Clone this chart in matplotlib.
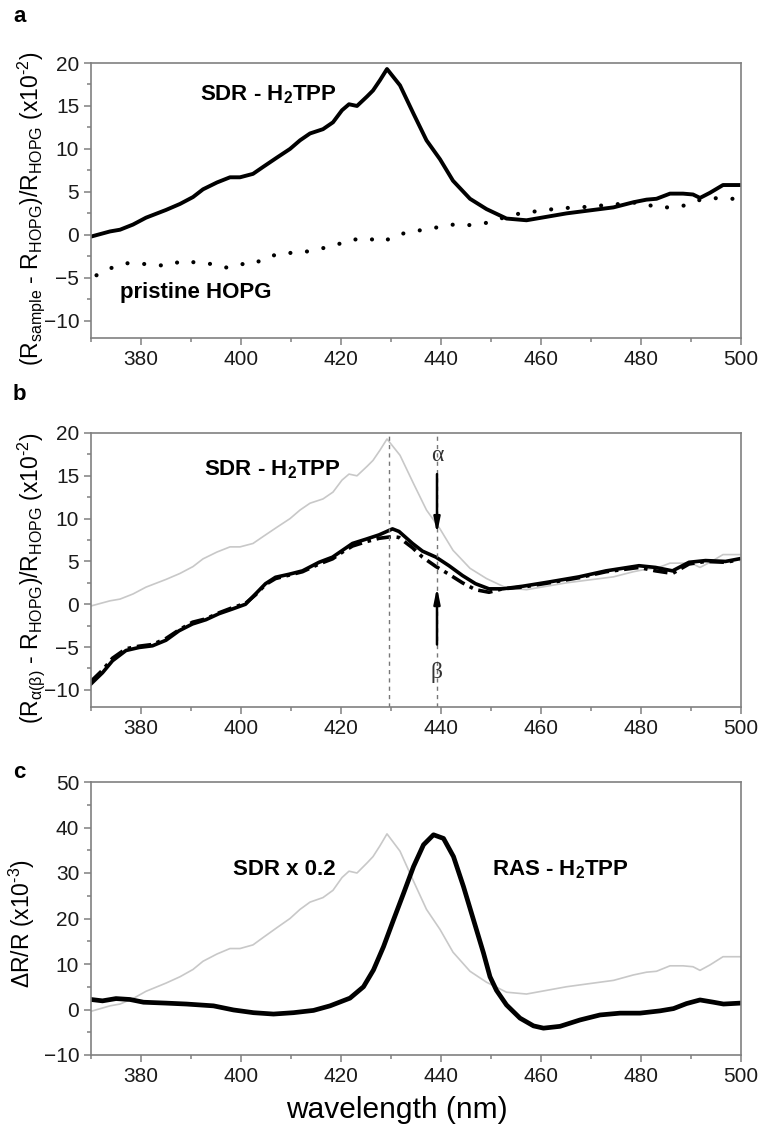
import matplotlib
matplotlib.use("Agg")
import matplotlib.pyplot as plt
from matplotlib.ticker import MultipleLocator
import numpy as np

plt.rcParams['font.family'] = ['Liberation Sans', 'DejaVu Sans']
plt.rcParams['mathtext.fontset'] = 'custom'
plt.rcParams['mathtext.rm'] = 'Liberation Sans'
plt.rcParams['mathtext.it'] = 'Liberation Sans:italic'
plt.rcParams['mathtext.bf'] = 'Liberation Sans:bold'

# ---------------- data ----------------
# Panel a: SDR - H2TPP (x10^-2)
lam_sdr = [370, 373.8, 375.8, 378.4, 381, 385, 387.8, 390.4, 392.4, 395.2, 397.8, 399.8,
           402.4, 404.4, 407.2, 409.8, 411.8, 413.8, 416.4, 418.4, 420.2, 421.6, 423.2,
           425.2, 426.4, 427.8, 429.2, 431.8, 434.5, 437.1, 439.8, 442.4, 445.8, 449.1,
           453.1, 457.1, 461.1, 465.1, 469.1, 474.5, 478.5, 481.1, 483.1, 485.8, 488.4,
           490.4, 491.8, 493.8, 496.4, 499.8]
sdr = [-0.2, 0.4, 0.6, 1.2, 2.0, 2.9, 3.6, 4.4, 5.3, 6.1, 6.7, 6.7,
       7.1, 7.9, 9.0, 10.0, 11.0, 11.8, 12.3, 13.1, 14.5, 15.2, 15.0,
       16.1, 16.8, 18.0, 19.3, 17.4, 14.1, 11.0, 8.8, 6.3, 4.2, 3.0,
       1.9, 1.7, 2.1, 2.5, 2.8, 3.2, 3.8, 4.1, 4.2, 4.8, 4.8,
       4.7, 4.3, 4.9, 5.8, 5.8]

# Panel a: pristine HOPG (x10^-2)
lam_hopg = [371.1, 373.8, 377.1, 381.1, 385, 388.5, 391.8, 394.5, 397.1, 399.8, 402.5,
            405.1, 408.5, 411.8, 415.1, 418.4, 421.8, 425.1, 428.5, 431.1, 434.5, 438.5,
            442.5, 445.1, 449.1, 452.5, 455.8, 459.8, 463.8, 467.8, 471.8, 475.8, 479.8,
            483.1, 486.5, 488.5, 490.5, 493.8, 497.1, 499.7]
hopg = [-4.7, -3.9, -3.3, -3.4, -3.6, -3.0, -3.3, -3.4, -3.8, -3.4, -3.4,
        -2.6, -2.1, -2.1, -1.7, -1.3, -0.6, -0.4, -0.8, 0.0, 0.4, 0.8,
        1.2, 1.1, 1.4, 2.0, 2.5, 2.8, 3.1, 3.2, 3.4, 3.6, 3.8,
        3.2, 3.2, 3.4, 3.9, 4.3, 4.2, 4.2]

# Panel b: alpha and beta polarisations (x10^-2)
lam_b = [370, 372.3, 374.3, 377, 379.6, 382.3, 385, 387.6, 390.3, 393, 395.6, 398.3,
         400.9, 402.9, 404.9, 406.9, 409.6, 412.3, 415.6, 418.3, 420.3, 422.3, 425,
         427.6, 430.3, 431.6, 434.3, 436.3, 439, 441.6, 444.3, 446.9, 449.6, 452.3,
         456.3, 461.6, 467.6, 473, 479.6, 482.9, 486.3, 489.6, 492.9, 496.9, 499.6]
r_alpha = [-9.3, -8.0, -6.6, -5.4, -5.05, -4.85, -4.2, -3.1, -2.3, -1.8, -1.1, -0.55,
           0.0, 1.2, 2.4, 3.15, 3.5, 3.9, 4.9, 5.5, 6.3, 7.1, 7.6,
           8.1, 8.8, 8.5, 7.1, 6.2, 5.5, 4.5, 3.35, 2.4, 1.8, 1.8,
           2.1, 2.6, 3.2, 3.9, 4.5, 4.3, 3.9, 4.9, 5.1, 5.0, 5.3]
r_beta = [-9.0, -7.7, -6.3, -5.2, -4.9, -4.7, -4.0, -3.0, -2.1, -1.7, -1.0, -0.4,
          0.1, 1.1, 2.3, 3.0, 3.4, 3.8, 4.7, 5.3, 6.1, 6.8, 7.3,
          7.7, 7.9, 7.8, 6.6, 5.5, 4.4, 3.5, 2.5, 1.7, 1.4, 1.8,
          2.0, 2.5, 3.1, 3.8, 4.3, 3.9, 3.6, 4.7, 5.0, 4.9, 5.2]

# Panel c: RAS - H2TPP (x10^-3)
lam_ras = [370, 372.3, 375, 377.8, 380.5, 385.1, 389.1, 394.5, 398.5, 402.5, 406.5,
           410.5, 414.5, 417.8, 421.8, 424.5, 426.5, 428.5, 430.5, 432.5, 434.5, 436.5,
           438.5, 440.5, 442.5, 444.5, 446.5, 448.5, 449.8, 451.1, 453.1, 455.8, 458.5,
           460.5, 463.8, 467.8, 471.8, 475.8, 479.8, 483.8, 486.5, 489.1, 491.8, 494.5,
           496.5, 499.8]
ras = [2.2, 1.9, 2.4, 2.2, 1.6, 1.4, 1.2, 0.8, -0.1, -0.7, -1.0,
       -0.7, -0.2, 0.8, 2.5, 5.0, 8.7, 13.8, 19.7, 25.5, 31.4, 36.2,
       38.4, 37.6, 33.6, 27.0, 19.7, 12.4, 7.2, 4.2, 1.0, -1.9, -3.6,
       -4.1, -3.7, -2.3, -1.2, -0.8, -0.8, -0.3, 0.2, 1.3, 2.1, 1.6,
       1.2, 1.4]
sdr_scale = 0.2   # SDR x 0.2, shown in units of 10^-3
sdr_c = [v * sdr_scale * 10 for v in sdr]

xticks = [380, 400, 420, 440, 460, 480, 500]

# ---------------- figure ----------------
fig = plt.figure(figsize=(7.62, 11.31), dpi=100)
L, W = 91 / 762, 650 / 762
ax_a = fig.add_axes([L, 1 - 338 / 1131, W, 275 / 1131])
ax_b = fig.add_axes([L, 1 - 707 / 1131, W, 274 / 1131])
ax_c = fig.add_axes([L, 1 - 1055 / 1131, W, 273 / 1131])

spine_col = '#808080'
for ax in (ax_a, ax_b, ax_c):
    for s in ax.spines.values():
        s.set_color(spine_col)
        s.set_linewidth(1.2)
    ax.set_xlim(370, 500)
    ax.set_xticks(xticks)
    ax.xaxis.set_minor_locator(MultipleLocator(10))
    ax.tick_params(which='both', direction='out', color=spine_col, width=1.1,
                   labelsize=15, labelcolor='#1a1a1a', top=False, right=False)
    ax.tick_params(which='major', length=5)
    ax.tick_params(which='minor', length=3)

ylab_fs = 16.5

# ---- panel a ----
ax_a.plot(lam_sdr, sdr, color='black', lw=2.8, solid_joinstyle='round')
ax_a.plot(lam_hopg, hopg, color='black', lw=3.0, linestyle=(0, (0.01, 4.0)),
          dash_capstyle='round')
ax_a.set_ylim(-12, 20)
ax_a.set_yticks([-10, -5, 0, 5, 10, 15, 20])
ax_a.yaxis.set_minor_locator(MultipleLocator(2.5))
ax_a.set_ylabel(r'(R$_{\mathrm{sample}}$ - R$_{\mathrm{HOPG}}$)/R$_{\mathrm{HOPG}}$ (x10$^{\text{-}2}$)',
                fontsize=ylab_fs)
ax_a.yaxis.set_label_coords(-0.068, 0.47)
ax_a.text(405.5, 16.3, r'SDR - H$_{\mathbf{2}}$TPP', fontsize=16, fontweight='bold',
          ha='center', va='center')
ax_a.text(391, -6.7, 'pristine HOPG', fontsize=16, fontweight='bold',
          ha='center', va='center')
fig.text(13 / 762, 1 - 16 / 1131, 'a', fontsize=16, fontweight='bold', va='center')

# ---- panel b ----
ax_b.plot(lam_sdr, sdr, color='#c8c8c8', lw=1.2)
ax_b.plot(lam_b, r_beta, color='black', lw=2.6, linestyle=(0, (4, 1.6, 1, 1.6)))
ax_b.plot(lam_b, r_alpha, color='black', lw=2.6)
for xv in (429.5, 439.2):
    ax_b.axvline(xv, color='#777777', lw=1.0, linestyle=(0, (3, 3)))
ax_b.annotate('', xy=(439.2, 8.2), xytext=(439.2, 15.2),
              arrowprops=dict(arrowstyle='-|>,head_length=0.9,head_width=0.18',
                              color='black', lw=1.8, shrinkA=0, shrinkB=0))
ax_b.annotate('', xy=(439.2, 2.0), xytext=(439.2, -4.7),
              arrowprops=dict(arrowstyle='-|>,head_length=0.9,head_width=0.18',
                              color='black', lw=1.8, shrinkA=0, shrinkB=0))
ax_b.text(439.2, 17.4, 'α', fontsize=17, family=['Liberation Serif', 'DejaVu Serif'],
          ha='center', va='center', color='#333333')
ax_b.text(439.0, -8.0, 'β', fontsize=17, family=['Liberation Serif', 'DejaVu Serif'],
          ha='center', va='center', color='#333333')
ax_b.set_ylim(-12, 20)
ax_b.set_yticks([-10, -5, 0, 5, 10, 15, 20])
ax_b.yaxis.set_minor_locator(MultipleLocator(2.5))
ax_b.set_ylabel(r'(R$_{\mathrm{\alpha(\beta)}}$ - R$_{\mathrm{HOPG}}$)/R$_{\mathrm{HOPG}}$ (x10$^{\text{-}2}$)',
                fontsize=ylab_fs)
ax_b.yaxis.set_label_coords(-0.068, 0.47)
ax_b.text(406.2, 15.7, r'SDR - H$_{\mathbf{2}}$TPP', fontsize=16, fontweight='bold',
          ha='center', va='center')
fig.text(13 / 762, 1 - 394 / 1131, 'b', fontsize=16, fontweight='bold', va='center')

# ---- panel c ----
ax_c.plot(lam_sdr, sdr_c, color='#c8c8c8', lw=1.2)
ax_c.plot(lam_ras, ras, color='black', lw=3.4, solid_joinstyle='round')
ax_c.set_ylim(-10, 50)
ax_c.set_yticks([-10, 0, 10, 20, 30, 40, 50])
ax_c.yaxis.set_minor_locator(MultipleLocator(5))
ax_c.set_ylabel(r'ΔR/R (x10$^{\text{-}3}$)', fontsize=ylab_fs)
ax_c.yaxis.set_label_coords(-0.083, 0.48)
ax_c.text(408.6, 30.7, 'SDR x 0.2', fontsize=16, fontweight='bold',
          ha='center', va='center')
ax_c.text(463.8, 30.7, r'RAS - H$_{\mathbf{2}}$TPP', fontsize=16, fontweight='bold',
          ha='center', va='center')
ax_c.set_xlabel('wavelength (nm)', fontsize=21.5)
ax_c.xaxis.set_label_coords(0.471, -0.15)
fig.text(13 / 762, 1 - 772 / 1131, 'c', fontsize=16, fontweight='bold', va='center')

fig.savefig('out.png', dpi=100)
